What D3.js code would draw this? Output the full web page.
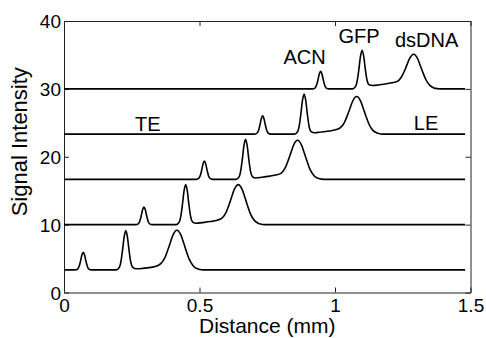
<!DOCTYPE html>
<html>
<head>
<meta charset="utf-8">
<script src="https://cdn.jsdelivr.net/npm/d3@7"></script>
<style>
  body { margin: 0; background: #fff; }
  svg { display: block; font-family: "Liberation Sans", Arial, sans-serif; }
  .axis path, .axis line { stroke: #222; }
  .axis text { font-size: 19px; fill: #000; font-family: "Liberation Sans", Arial, sans-serif; }
</style>
</head>
<body>
<div class="chart"></div>
<script>
// distance (mm) / signal pairs, one trace per time step
const trace1 = [
  [0, 3.33], [0.041, 3.33], [0.051, 3.49], [0.057, 4.0], [0.061, 4.63], [0.066, 5.51], [0.071, 5.93],
  [0.076, 5.51], [0.081, 4.63], [0.086, 3.88], [0.092, 3.45], [0.101, 3.33],
  [0.193, 3.33], [0.204, 3.7], [0.211, 4.78], [0.216, 6.23], [0.222, 8.2], [0.228, 9.13],
  [0.234, 8.2], [0.240, 6.23], [0.246, 4.55], [0.254, 3.7], [0.266, 3.49],
  [0.29, 3.55], [0.32, 3.7], [0.345, 3.95],
  [0.357, 4.25], [0.372, 5.1], [0.384, 6.36], [0.392, 7.3], [0.402, 8.45], [0.417, 9.18],
  [0.432, 8.42], [0.442, 7.25], [0.450, 6.26], [0.462, 4.91], [0.477, 3.92], [0.492, 3.49],
  [0.507, 3.36], [0.52, 3.33], [1.48, 3.33]
]
const trace2 = [
  [0, 10], [0.265, 10], [0.275, 10.16], [0.281, 10.67], [0.285, 11.3], [0.290, 12.18], [0.295, 12.6],
  [0.300, 12.18], [0.305, 11.3], [0.310, 10.55], [0.316, 10.12], [0.325, 10],
  [0.414, 10], [0.425, 10.37], [0.432, 11.48], [0.437, 12.95], [0.443, 14.96], [0.449, 15.9],
  [0.455, 14.96], [0.461, 12.95], [0.467, 11.24], [0.475, 10.37], [0.487, 10.2],
  [0.51, 10.3], [0.54, 10.45], [0.565, 10.65],
  [0.583, 10.94], [0.598, 11.8], [0.610, 13.05], [0.618, 14.0], [0.628, 15.15], [0.643, 15.9],
  [0.658, 15.13], [0.668, 13.95], [0.676, 12.95], [0.688, 11.59], [0.703, 10.59], [0.718, 10.17],
  [0.733, 10.03], [0.746, 10], [1.48, 10]
]
const trace3 = [
  [0, 16.67], [0.488, 16.67], [0.498, 16.84], [0.504, 17.37], [0.508, 18.02], [0.513, 18.94], [0.518, 19.37],
  [0.523, 18.94], [0.528, 18.02], [0.533, 17.24], [0.539, 16.8], [0.548, 16.67],
  [0.635, 16.67], [0.646, 17.04], [0.653, 18.15], [0.658, 19.62], [0.664, 21.63], [0.670, 22.57],
  [0.676, 21.63], [0.682, 19.62], [0.688, 17.91], [0.696, 17.04], [0.708, 16.87],
  [0.73, 16.97], [0.76, 17.15], [0.785, 17.35],
  [0.802, 17.6], [0.817, 18.42], [0.829, 19.65], [0.837, 20.57], [0.847, 21.69], [0.862, 22.42],
  [0.877, 21.67], [0.887, 20.52], [0.895, 19.55], [0.907, 18.22], [0.922, 17.25], [0.937, 16.83],
  [0.952, 16.7], [0.965, 16.67], [1.48, 16.67]
]
const trace4 = [
  [0, 23.33], [0.703, 23.33], [0.713, 23.5], [0.719, 24.03], [0.723, 24.68], [0.728, 25.6], [0.733, 26.03],
  [0.738, 25.6], [0.743, 24.68], [0.748, 23.9], [0.754, 23.46], [0.763, 23.33],
  [0.851, 23.33], [0.862, 23.7], [0.869, 24.81], [0.874, 26.28], [0.880, 28.29], [0.886, 29.23],
  [0.892, 28.29], [0.898, 26.28], [0.904, 24.57], [0.912, 23.7], [0.924, 23.53],
  [0.95, 23.65], [0.98, 23.8], [1.005, 24.0],
  [1.020, 24.29], [1.035, 25.08], [1.047, 26.23], [1.055, 27.1], [1.065, 28.18], [1.080, 28.88],
  [1.095, 28.16], [1.105, 27.05], [1.113, 26.11], [1.125, 24.83], [1.140, 23.89], [1.155, 23.49],
  [1.170, 23.36], [1.183, 23.33], [1.48, 23.33]
]
const trace5 = [
  [0, 30], [0.917, 30], [0.927, 30.16], [0.933, 30.67], [0.937, 31.3], [0.942, 32.18], [0.947, 32.6],
  [0.952, 32.18], [0.957, 31.3], [0.962, 30.55], [0.968, 30.12], [0.977, 30],
  [1.065, 30], [1.076, 30.36], [1.083, 31.43], [1.088, 32.85], [1.094, 34.79], [1.100, 35.7],
  [1.106, 34.79], [1.112, 32.85], [1.118, 31.3], [1.126, 30.6], [1.138, 30.5],
  [1.16, 30.58], [1.185, 30.72], [1.21, 30.9],
  [1.230, 31.1], [1.245, 31.75], [1.257, 32.7], [1.265, 33.5], [1.275, 34.45], [1.290, 35.1],
  [1.305, 34.44], [1.315, 33.42], [1.323, 32.55], [1.335, 31.38], [1.350, 30.51], [1.365, 30.14],
  [1.380, 30.03], [1.393, 30], [1.48, 30]
]
const traces = [trace1, trace2, trace3, trace4, trace5]

const xTicks = [0, 0.5, 1, 1.5]
const yTicks = [0, 10, 20, 30, 40]
const peakNames = ["ACN", "GFP", "dsDNA"]
const endNames = ["TE", "LE"]

const margin = {top: 21, right: 15.5, bottom: 45.5, left: 64},
    width = 486 - margin.left - margin.right,
    height = 338 - margin.top - margin.bottom

const x = d3.scaleLinear()
    .domain([0, 1.5])
    .range([0, width])

const y = d3.scaleLinear()
    .domain([0, 40])
    .range([height, 0])

const svg = d3.select('.chart').append("svg")
    .attr("width", width + margin.left + margin.right)
    .attr("height", height + margin.top + margin.bottom)
  .append("g")
    .attr("transform", "translate(" + margin.left + "," + margin.top + ")")

// ticks point inward on all four sides
svg.append("g")
    .attr("class", "x axis")
    .attr("transform", "translate(0," + height + ")")
    .call(d3.axisBottom(x).tickValues(xTicks).tickFormat(d3.format("")).tickSizeInner(-5).tickSizeOuter(0).tickPadding(6))

svg.append("g")
    .attr("class", "x axis")
    .call(d3.axisTop(x).tickValues(xTicks).tickFormat("").tickSizeInner(-5).tickSizeOuter(0))

svg.append("g")
    .attr("class", "y axis")
    .call(d3.axisLeft(y).tickValues(yTicks).tickSizeInner(-5).tickSizeOuter(0).tickPadding(3))

svg.append("g")
    .attr("class", "y axis")
    .attr("transform", "translate(" + width + ",0)")
    .call(d3.axisRight(y).tickValues(yTicks).tickFormat("").tickSizeInner(-5).tickSizeOuter(0))

svg.selectAll(".y.axis text").attr("dy", ".36em")

const line = d3.line()
    .x(function(d) { return x(d[0]) })
    .y(function(d) { return y(d[1]) })
    .curve(d3.curveMonotoneX)

svg.selectAll(".trace")
    .data(traces)
  .enter().append("path")
    .attr("class", "trace")
    .attr("d", line)
    .style("fill", "none")
    .style("stroke", "#000")
    .style("stroke-width", 1.6)

// peak and end labels
const peakPos = [[0.888, 33.6], [1.089, 36.7], [1.338, 36.2]]
svg.selectAll(".peak")
    .data(peakNames)
  .enter().append("text")
    .attr("class", "peak")
    .attr("x", function(d, i) { return x(peakPos[i][0]) })
    .attr("y", function(d, i) { return y(peakPos[i][1]) })
    .style("text-anchor", "middle")
    .style("font-size", "20px")
    .text(function(d) { return d })

const endPos = [[0.309, 23.85], [1.336, 23.95]]
svg.selectAll(".end")
    .data(endNames)
  .enter().append("text")
    .attr("class", "end")
    .attr("x", function(d, i) { return x(endPos[i][0]) })
    .attr("y", function(d, i) { return y(endPos[i][1]) })
    .style("text-anchor", "middle")
    .style("font-size", "20px")
    .text(function(d) { return d })

svg.append("text")
    .attr("x", width / 2)
    .attr("y", height + 40.5)
    .style("text-anchor", "middle")
    .style("font-size", "21px")
    .text("Distance (mm)")

svg.append("text")
    .attr("transform", "rotate(-90)")
    .attr("x", -(height / 2) + 15)
    .attr("y", -37)
    .style("text-anchor", "middle")
    .style("font-size", "22px")
    .text("Signal Intensity")
</script>
</body>
</html>
